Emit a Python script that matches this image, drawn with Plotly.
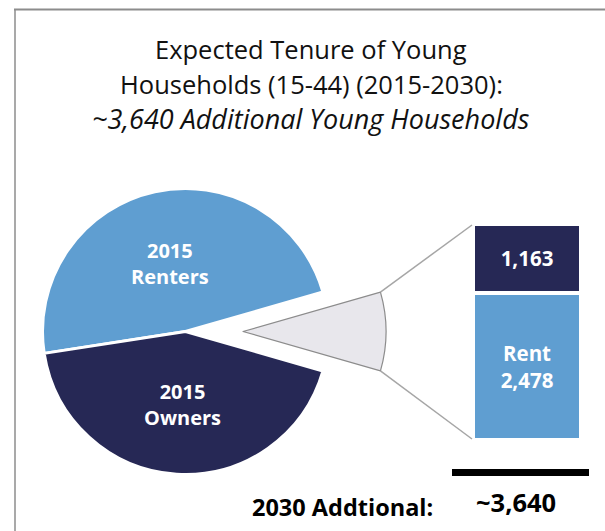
import math
import plotly.graph_objects as go

# ---- data ----
pie_labels = ["2030 Additional", "2015 Renters", "2015 Owners"]
renters_2015 = 19650
owners_2015 = 17650
bar_names = ["Rent", "Own"]
bar_values = [2478, 1163]
additional = sum(bar_values)
pie_values = [additional, renters_2015, owners_2015]

title_lines = ["Expected Tenure of Young", "Households (15-44) (2015-2030):",
               "<i>~3,640 Additional Young Households</i>"]
total_label = "2030 Addtional:"
total_value_label = "~3,640"

# ---- geometry / style ----
W, H = 605, 531
FONT = "Open Sans"
LIGHT = "#5F9ED1"
DARK = "#262855"
GRAY_FILL = "#E8E7EC"
GRAY_LINE = "#8C8C8C"
CLEAR = "rgba(0,0,0,0)"

def px(x):
    return x / W

def py(y):
    return 1 - y / H

cx, cy, R = 185.5, 331.5, 143
shift = 57.5
total = sum(pie_values)
half = 180.0 * additional / total          # half-angle of the pulled-out slice
rotation = 90 - half

def dom(cxp):
    return dict(x=[px(cxp - R), px(cxp + R)], y=[py(cy + R), py(cy - R)])

fig = go.Figure()

fig.add_trace(go.Pie(
    labels=pie_labels, values=pie_values, sort=False, direction="counterclockwise",
    rotation=rotation, domain=dom(cx), textinfo="none", hoverinfo="skip",
    marker=dict(colors=[CLEAR, LIGHT, DARK],
                line=dict(color=[CLEAR, "white", "white"], width=[0, 3, 3])),
    showlegend=False))

fig.add_trace(go.Pie(
    labels=pie_labels, values=pie_values, sort=False, direction="counterclockwise",
    rotation=rotation, domain=dom(cx + shift), textinfo="none", hoverinfo="skip",
    marker=dict(colors=[GRAY_FILL, CLEAR, CLEAR],
                line=dict(color=[GRAY_LINE, CLEAR, CLEAR], width=[1.2, 0, 0])),
    showlegend=False))

# stacked bar (bar of pie)
bar_x0, bar_x1, bar_top, bar_bot = 473, 581, 224, 440
bar_colors = [LIGHT, DARK]
bar_texts = ["Rent<br>2,478", "1,163"]
for name, val, col, txt in zip(bar_names, bar_values, bar_colors, bar_texts):
    fig.add_trace(go.Bar(
        x=[0], y=[val], name=name, width=1, marker=dict(color=col, line=dict(color="white", width=4)),
        text=[txt], textposition="inside", insidetextanchor="middle", textangle=0,
        textfont=dict(family=FONT, size=20.5, color="white", weight="bold"),
        hoverinfo="skip", showlegend=False))

fig.update_layout(
    width=W, height=H, margin=dict(l=0, r=0, t=0, b=0),
    paper_bgcolor="white", plot_bgcolor="white", barmode="stack",
    xaxis=dict(domain=[px(bar_x0), px(bar_x1)], range=[-0.5, 0.5], visible=False, fixedrange=True),
    yaxis=dict(domain=[py(bar_bot), py(bar_top)], range=[0, sum(bar_values)], visible=False, fixedrange=True),
    font=dict(family=FONT),
)

# connector lines from the pulled slice to the bar
th = math.radians(half)
gx = cx + shift + R * math.cos(th)
gy_top = cy - R * math.sin(th)
gy_bot = cy + R * math.sin(th)
shapes = [
    dict(type="line", xref="paper", yref="paper", x0=px(gx), y0=py(gy_top), x1=px(bar_x0 - 1), y1=py(bar_top + 1),
         line=dict(color="#A6A6A6", width=1.5)),
    dict(type="line", xref="paper", yref="paper", x0=px(gx), y0=py(gy_bot), x1=px(bar_x0 - 1), y1=py(bar_bot - 1),
         line=dict(color="#A6A6A6", width=1.5)),
    # total underline
    dict(type="rect", xref="paper", yref="paper", x0=px(452), y0=py(476), x1=px(589), y1=py(469),
         fillcolor="black", line=dict(width=0)),
    # frame
    dict(type="line", xref="paper", yref="paper", x0=px(14), y0=py(9.5), x1=1, y1=py(9.5),
         line=dict(color="#8C8C8C", width=2)),
    dict(type="line", xref="paper", yref="paper", x0=px(15), y0=py(9), x1=px(15), y1=0,
         line=dict(color="#8C8C8C", width=1.5)),
]
fig.update_layout(shapes=shapes)

ann = []
for line, yy, sz in zip(title_lines, [49, 84, 118], [25.5, 25.5, 27]):
    ann.append(dict(text=line, x=px(311), y=py(yy), xref="paper", yref="paper", showarrow=False,
                    xanchor="center", yanchor="middle", font=dict(family=FONT, size=sz, color="#111111")))
ann.append(dict(text="<b>2015<br>Renters</b>", x=px(170), y=py(263), xref="paper", yref="paper",
                showarrow=False, xanchor="center", yanchor="middle", font=dict(family=FONT, size=20, color="white")))
ann.append(dict(text="<b>2015<br>Owners</b>", x=px(182), y=py(404), xref="paper", yref="paper",
                showarrow=False, xanchor="center", yanchor="middle", font=dict(family=FONT, size=20, color="white")))
ann.append(dict(text="<b>" + total_label + "</b>", x=px(342), y=py(507), xref="paper", yref="paper",
                showarrow=False, xanchor="center", yanchor="middle", font=dict(family=FONT, size=23.5, color="black")))
ann.append(dict(text="<b>" + total_value_label + "</b>", x=px(516), y=py(502), xref="paper", yref="paper",
                showarrow=False, xanchor="center", yanchor="middle", font=dict(family=FONT, size=25.5, color="black")))
fig.update_layout(annotations=ann)

fig.write_html("out.html", config={"displayModeBar": False},
               post_script="document.body.style.margin='0';")
